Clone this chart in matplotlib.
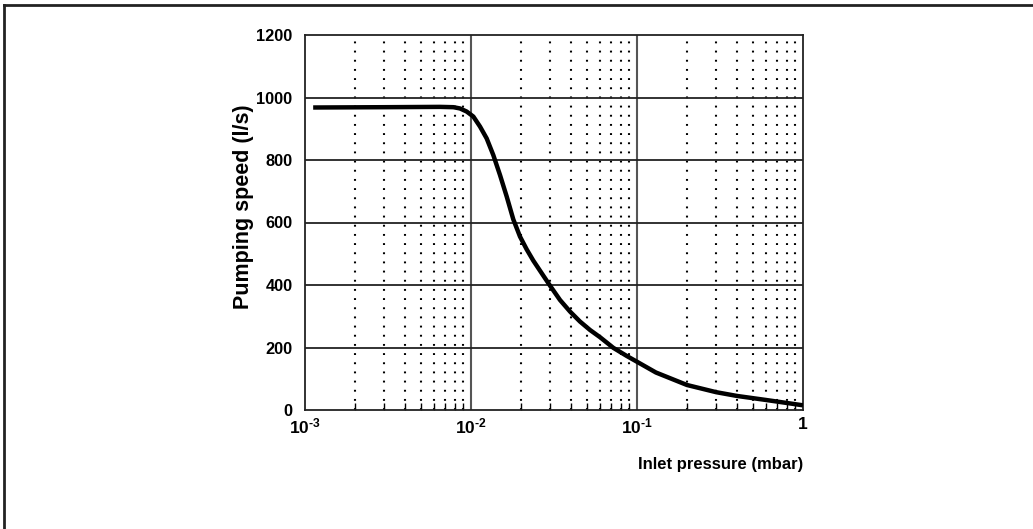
import matplotlib
matplotlib.use("Agg")
import matplotlib.pyplot as plt
from matplotlib.lines import Line2D

pressure = [0.00112, 0.003, 0.0065, 0.00783, 0.00858, 0.00942, 0.01033, 0.01133,
            0.01243, 0.01362, 0.01495, 0.01641, 0.01798, 0.01973, 0.02165, 0.02373,
            0.02726, 0.02992, 0.03437, 0.03949, 0.04536, 0.05212, 0.05986, 0.07197,
            0.0867, 0.1042, 0.13, 0.2, 0.3, 0.4, 0.6, 1.0]
speed = [968, 969, 970, 969, 965, 955, 939, 907,
         869, 816, 752, 683, 610, 555, 514, 478,
         430, 398, 352, 315, 283, 256, 233, 199,
         173, 149, 120, 80, 57, 45, 32, 15]

x_ticks = [1e-3, 1e-2, 1e-1, 1]
x_ticklabels = [r'$10^{\text{-}3}$', r'$10^{\text{-}2}$', r'$10^{\text{-}1}$', '1']
y_ticks = [0, 200, 400, 600, 800, 1000, 1200]
x_label = 'Inlet pressure (mbar)'
y_label = 'Pumping speed (l/s)'

plt.rcParams['font.family'] = ['Liberation Sans', 'DejaVu Sans']
plt.rcParams['mathtext.fontset'] = 'custom'
plt.rcParams['mathtext.rm'] = 'Liberation Sans:bold'
plt.rcParams['mathtext.it'] = 'Liberation Sans:bold'
plt.rcParams['mathtext.bf'] = 'Liberation Sans:bold'

W, H = 1033, 529
fig = plt.figure(figsize=(W / 100, H / 100), dpi=100)
ax = fig.add_axes([305 / W, 1 - 410 / H, 498 / W, 375 / H])

ax.set_xscale('log')
ax.set_xlim(1e-3, 1)
ax.set_ylim(0, 1200)

minors = [m * 10.0 ** e for e in (-3, -2, -1) for m in range(2, 10)]
for xm in minors:
    ax.axvline(xm, color='black', lw=1.5, linestyle=(0, (0.9, 3.5)), zorder=1)
for xm in (1e-2, 1e-1):
    ax.axvline(xm, color='#555555', lw=1.5, zorder=1)
for yv in y_ticks[1:-1]:
    ax.axhline(yv, color='#222222', lw=1.3, zorder=1)

ax.plot(pressure, speed, color='black', lw=3.2, solid_capstyle='butt',
        solid_joinstyle='round', zorder=3)

ax.set_xticks(x_ticks)
ax.set_xticklabels(x_ticklabels)
ax.set_xticks(minors, minor=True)
ax.tick_params(axis='x', which='minor', direction='in', length=5, width=1.0, labelbottom=False)
ax.tick_params(axis='x', which='major', length=0, pad=5)
ax.set_yticks(y_ticks)
ax.tick_params(axis='y', which='major', length=0, pad=9)
for lab in ax.get_xticklabels():
    lab.set_fontsize(12.5)
    lab.set_fontweight('bold')
for lab in ax.get_yticklabels():
    lab.set_fontsize(11.8)
    lab.set_fontweight('bold')

for sp in ax.spines.values():
    sp.set_linewidth(1.3)
    sp.set_color('#222222')

fig.text(243 / W, 1 - 207 / H, y_label, rotation=90, ha='center', va='center',
         fontsize=15.5, fontweight='bold')
fig.text(803 / W, 1 - 465 / H, x_label, ha='right', va='center',
         fontsize=12, fontweight='bold')

fig.add_artist(Line2D([4 / W, 1.01], [1 - 5.3 / H, 1 - 5.3 / H], color='#222222', lw=2,
                      transform=fig.transFigure))
fig.add_artist(Line2D([4 / W, 4 / W], [1 - 5.3 / H, -0.01], color='#222222', lw=2,
                      transform=fig.transFigure))

fig.savefig('out.png', dpi=100)
